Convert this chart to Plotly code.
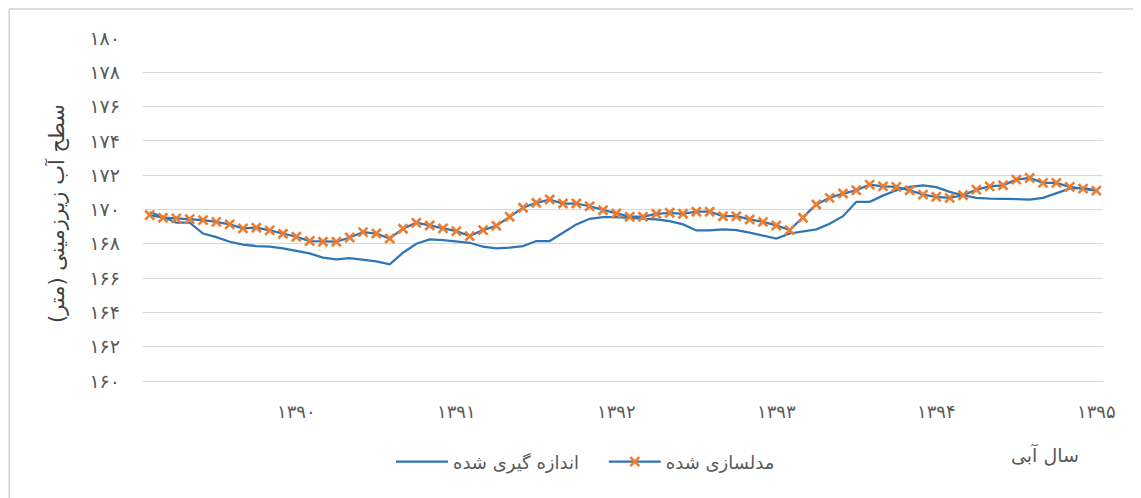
import plotly.graph_objects as go

# monthly index (72 months, water years 1390-1395)
months = list(range(72))

measured = [
    169.84, 169.58, 169.23, 169.23, 168.60, 168.39, 168.12, 167.95, 167.87, 167.83, 167.73, 167.58,
    167.44, 167.19, 167.09, 167.17, 167.09, 166.98, 166.80, 167.48, 168.00, 168.26, 168.22, 168.14,
    168.06, 167.83, 167.73, 167.77, 167.87, 168.16, 168.16, 168.64, 169.13, 169.46, 169.55, 169.55,
    169.52, 169.48, 169.42, 169.32, 169.13, 168.78, 168.78, 168.84, 168.80, 168.65, 168.50, 168.31,
    168.60, 168.74, 168.84, 169.17, 169.61, 170.45, 170.45, 170.81, 171.12, 171.32, 171.40, 171.30,
    171.03, 170.83, 170.68, 170.64, 170.62, 170.60, 170.58, 170.68, 170.97, 171.22, 171.26, 171.10,
]

modeled = [
    169.67, 169.52, 169.48, 169.44, 169.38, 169.28, 169.13, 168.90, 168.94, 168.78, 168.59, 168.41,
    168.16, 168.12, 168.12, 168.37, 168.68, 168.60, 168.31, 168.88, 169.23, 169.07, 168.90, 168.74,
    168.45, 168.80, 169.05, 169.58, 170.10, 170.39, 170.58, 170.35, 170.35, 170.19, 169.96, 169.77,
    169.58, 169.58, 169.75, 169.81, 169.75, 169.87, 169.87, 169.61, 169.61, 169.42, 169.28, 169.07,
    168.80, 169.52, 170.29, 170.68, 170.93, 171.12, 171.45, 171.35, 171.32, 171.12, 170.87, 170.74,
    170.68, 170.83, 171.16, 171.35, 171.41, 171.74, 171.84, 171.55, 171.55, 171.32, 171.22, 171.10,
]

x_tick_vals = [11, 23, 35, 47, 59, 71]
x_tick_text = ["۱۳۹۰", "۱۳۹۱", "۱۳۹۲", "۱۳۹۳", "۱۳۹۴", "۱۳۹۵"]

y_tick_vals = [160, 162, 164, 166, 168, 170, 172, 174, 176, 178, 180]
y_tick_text = ["۱۶۰", "۱۶۲", "۱۶۴", "۱۶۶", "۱۶۸", "۱۷۰", "۱۷۲", "۱۷۴", "۱۷۶", "۱۷۸", "۱۸۰"]

name_measured = "اندازه گیری شده"
name_modeled = "مدلسازی شده"
y_title = "سطح آب زیرزمینی (متر)"
x_title = "سال آبی"

BLUE = "#2E75B6"
ORANGE = "#ED7D31"
GREY_TXT = "#595959"
GRID = "#D9D9D9"
FONT = "DejaVu Sans"

fig = go.Figure()
fig.add_trace(go.Scatter(
    x=months, y=measured, mode="lines", name=name_measured,
    line=dict(color=BLUE, width=2.25), legend="legend",
))
fig.add_trace(go.Scatter(
    x=months, y=modeled, mode="lines+markers", name=name_modeled,
    line=dict(color=BLUE, width=2.25),
    marker=dict(symbol="x-thin", size=9, color=ORANGE, line=dict(color=ORANGE, width=2.7)),
    legend="legend2",
))

legend_common = dict(
    orientation="h", yanchor="middle", y=-0.236, xanchor="left",
    itemwidth=52, font=dict(size=18, color=GREY_TXT), bgcolor="rgba(0,0,0,0)",
)

# page body has an 8px margin, so the figure sits at (8, 8)
fig.update_layout(
    width=1133, height=490,
    margin=dict(l=135, r=38, t=30, b=117),
    paper_bgcolor="white", plot_bgcolor="white",
    font=dict(family=FONT, color=GREY_TXT, size=15),
    showlegend=True,
    legend=dict(legend_common, x=0.2583),
    legend2=dict(legend_common, x=0.480),
    xaxis=dict(
        range=[-0.5, 71.5], showgrid=False, zeroline=False,
        showline=True, linecolor=GRID, linewidth=1,
        tickmode="array", tickvals=x_tick_vals, ticktext=x_tick_text,
        ticks="", ticklabelstandoff=14, tickfont=dict(size=18, color=GREY_TXT),
    ),
    yaxis=dict(
        range=[160, 180], showgrid=True, gridcolor=GRID, gridwidth=1, zeroline=False,
        showline=False,
        tickmode="array", tickvals=y_tick_vals, ticktext=y_tick_text,
        ticks="", ticklabelstandoff=22, tickfont=dict(size=19, color=GREY_TXT),
    ),
    annotations=[
        dict(text=y_title, xref="paper", yref="paper", x=-0.0896, y=0.49,
             textangle=-90, showarrow=False, font=dict(size=21, color="#404040"),
             xanchor="center", yanchor="middle"),
        dict(text=x_title, xref="paper", yref="paper", x=0.94, y=-0.215,
             showarrow=False, font=dict(size=19, color=GREY_TXT),
             xanchor="center", yanchor="middle"),
    ],
    shapes=[
        # outer chart frame (top and left edges visible in the window)
        dict(type="line", xref="paper", yref="paper", x0=-0.1394, y0=1.0845, x1=1.05, y1=1.0845,
             line=dict(color="#D0D0D0", width=1.5), layer="above"),
        dict(type="line", xref="paper", yref="paper", x0=-0.1394, y0=1.0845, x1=-0.1394, y1=-0.35,
             line=dict(color="#D0D0D0", width=1.5), layer="above"),
    ],
)

fig.write_html("out.html")
